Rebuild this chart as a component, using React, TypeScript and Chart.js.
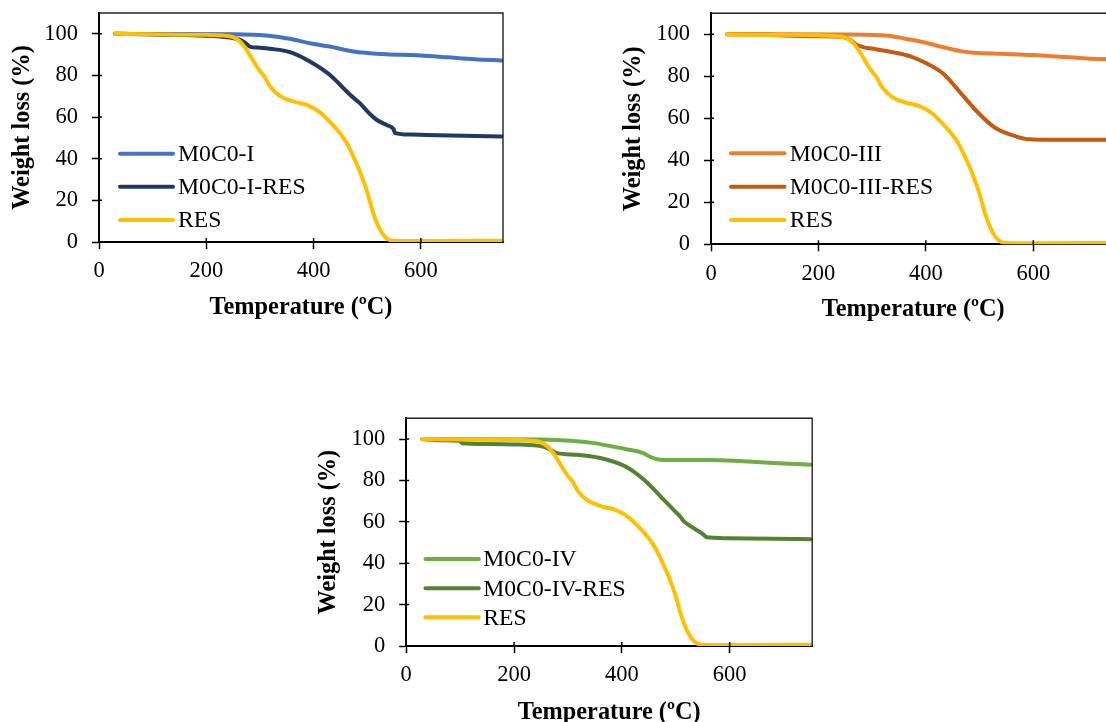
import { useEffect, useRef } from 'react';
import { Chart, registerables } from 'chart.js';

Chart.register(...registerables);

const FONT = "'Liberation Serif', 'Times New Roman', serif";

// Axis ticks and ranges
const xTicks = [0, 200, 400, 600];
const yTicks = [0, 20, 40, 60, 80, 100];
const X_MAX = 753;
const Y_MAX = 110;

// RES trace (shared by all three panels)
const resTemp = [30, 100, 200, 230, 250, 263, 272, 281, 294, 303, 308, 319, 337, 362, 387, 412, 430, 449, 462, 474, 486, 499, 511, 524, 536, 549, 600, 750];
const resWeight = [100, 99.8, 99.5, 99.2, 98.4, 96.3, 93.5, 89.9, 84.3, 81.2, 79.6, 74.7, 70.2, 67.5, 65.9, 62.3, 57.8, 52.3, 47.4, 41, 34, 24.8, 14, 5.8, 1.8, 0.6, 0.5, 0.6];

// M0C0-I and M0C0-I-RES
const m0c0ITemp = [30, 150, 250, 320, 356, 393, 430, 474, 500, 536, 600, 650, 700, 750];
const m0c0IWeight = [100, 99.9, 99.8, 99, 97.6, 95.5, 93.9, 91.5, 90.8, 90.2, 89.6, 88.7, 87.8, 87.2];
const m0c0IResTemp = [30, 120, 200, 226, 245, 263, 272, 281, 300, 319, 356, 393, 430, 468, 486, 505, 518, 536, 549, 552, 580, 610, 680, 750];
const m0c0IResWeight = [100, 99.6, 99.1, 98.7, 98.2, 97.1, 95.8, 93.9, 93.3, 92.8, 91.2, 86.7, 80.3, 70.7, 66.7, 61.5, 58.6, 56.2, 54.2, 52.3, 51.6, 51.4, 51, 50.7];

// M0C0-III and M0C0-III-RES
const m0c0IIITemp = [30, 150, 250, 330, 360, 400, 430, 465, 490, 540, 600, 650, 700, 750];
const m0c0IIIWeight = [100, 100, 99.9, 99.3, 98, 96, 94, 92, 91.2, 90.7, 90.1, 89.3, 88.5, 88.1];
const m0c0IIIResTemp = [30, 120, 125, 200, 245, 260, 272, 285, 300, 340, 370, 400, 434, 465, 496, 527, 558, 585, 620, 700, 750];
const m0c0IIIResWeight = [100, 99.8, 99.5, 99.1, 98.7, 97.2, 94.9, 93.8, 93.2, 91.4, 89.6, 86.3, 80.9, 72, 63, 55.8, 52.2, 50.2, 49.8, 49.8, 49.8];

// M0C0-IV and M0C0-IV-RES
const m0c0IVTemp = [30, 150, 250, 304, 348, 380, 406, 440, 453, 471, 500, 564, 626, 700, 750];
const m0c0IVWeight = [100, 99.9, 99.8, 99.2, 98, 96.5, 95.2, 93.2, 91.3, 90, 89.9, 89.9, 89.2, 88.2, 87.6];
const m0c0IVResTemp = [30, 60, 98, 104, 150, 200, 243, 258, 268, 280, 317, 360, 406, 441, 472, 502, 510, 514, 533, 552, 556, 595, 680, 750];
const m0c0IVResWeight = [100, 99.4, 99.2, 98, 97.6, 97.4, 96.8, 96, 94.8, 93.2, 92.4, 90.8, 86.8, 80.3, 72.2, 64.2, 62, 60.5, 56.9, 53.7, 52.7, 52.1, 51.8, 51.6];

const YELLOW = '#FFC000';

type Series = { label: string; temp: number[]; weight: number[]; color: string };
type Box = { left: number; top: number; width: number; height: number };
type Plot = { left: number; top: number; right: number; bottom: number };
type LegendSpec = { lineFrom: number; lineTo: number; textX: number; rows: number[] };
type PanelSpec = { canvas: Box; plot: Plot; legend: LegendSpec; series: Series[] };

const panels: PanelSpec[] = [
  {
    canvas: { left: 0, top: 0, width: 520, height: 330 },
    plot: { left: 99, top: 13, right: 503, bottom: 242 },
    legend: { lineFrom: 21, lineTo: 74, textX: 79, rows: [140.7, 173.7, 207] },
    series: [
      { label: 'M0C0-I', temp: m0c0ITemp, weight: m0c0IWeight, color: '#4472C4' },
      { label: 'M0C0-I-RES', temp: m0c0IResTemp, weight: m0c0IResWeight, color: '#203864' },
      { label: 'RES', temp: resTemp, weight: resWeight, color: YELLOW },
    ],
  },
  {
    canvas: { left: 610.5, top: 2, width: 525, height: 330 },
    plot: { left: 710.5, top: 13.3, right: 1115, bottom: 244.3 },
    legend: { lineFrom: 20, lineTo: 73.5, textX: 78.8, rows: [140, 173.4, 206.7] },
    series: [
      { label: 'M0C0-III', temp: m0c0IIITemp, weight: m0c0IIIWeight, color: '#ED7D31' },
      { label: 'M0C0-III-RES', temp: m0c0IIIResTemp, weight: m0c0IIIResWeight, color: '#C55A11' },
      { label: 'RES', temp: resTemp, weight: resWeight, color: YELLOW },
    ],
  },
  {
    canvas: { left: 305.5, top: 400, width: 525, height: 335 },
    plot: { left: 405.7, top: 418.3, right: 811.7, bottom: 646 },
    legend: { lineFrom: 19.3, lineTo: 72.6, textX: 77, rows: [140.7, 170, 199] },
    series: [
      { label: 'M0C0-IV', temp: m0c0IVTemp, weight: m0c0IVWeight, color: '#70AD47' },
      { label: 'M0C0-IV-RES', temp: m0c0IVResTemp, weight: m0c0IVResWeight, color: '#548235' },
      { label: 'RES', temp: resTemp, weight: resWeight, color: YELLOW },
    ],
  },
];

// Closes the frame (top/right) and adds the inner half of each cross tick
const framePlugin = {
  id: 'frame',
  afterDraw(chart: any) {
    const { ctx, chartArea: a, scales } = chart;
    ctx.save();
    ctx.strokeStyle = '#222';
    ctx.lineWidth = 1.4;
    ctx.beginPath();
    ctx.moveTo(a.left, a.top);
    ctx.lineTo(a.right, a.top);
    ctx.lineTo(a.right, a.bottom);
    ctx.stroke();
    ctx.strokeStyle = '#000';
    ctx.lineWidth = 1.5;
    ctx.beginPath();
    scales.y.ticks.forEach((t: any) => {
      const py = scales.y.getPixelForValue(t.value);
      ctx.moveTo(a.left, py);
      ctx.lineTo(a.left + 3, py);
    });
    scales.x.ticks.forEach((t: any) => {
      const px = scales.x.getPixelForValue(t.value);
      ctx.moveTo(px, a.bottom);
      ctx.lineTo(px, a.bottom - 4);
    });
    ctx.stroke();
    ctx.restore();
  },
};

// Legend drawn inside the plot area, one row per dataset
const inlineLegendPlugin = {
  id: 'inlineLegend',
  afterDraw(chart: any, _args: any, opts: any) {
    if (!opts || !opts.rows) return;
    const { ctx, chartArea: a } = chart;
    ctx.save();
    chart.data.datasets.forEach((ds: any, i: number) => {
      const y = a.top + opts.rows[i];
      ctx.strokeStyle = ds.borderColor;
      ctx.lineWidth = 4;
      ctx.lineCap = 'round';
      ctx.beginPath();
      ctx.moveTo(a.left + opts.lineFrom, y);
      ctx.lineTo(a.left + opts.lineTo, y);
      ctx.stroke();
      ctx.fillStyle = '#000';
      ctx.font = `23.7px ${FONT}`;
      ctx.textAlign = 'left';
      ctx.textBaseline = 'middle';
      ctx.fillText(ds.label, a.left + opts.textX, y + 1);
    });
    ctx.restore();
  },
};

function Panel({ spec }: { spec: PanelSpec }) {
  const ref = useRef<HTMLCanvasElement>(null);

  useEffect(() => {
    if (!ref.current) return;
    const { canvas, plot, legend, series } = spec;
    const yAxisW = plot.left - canvas.left;
    const xAxisH = canvas.top + canvas.height - plot.bottom;

    const chart = new Chart(ref.current, {
      type: 'line',
      data: {
        datasets: series.map((s, i) => ({
          label: s.label,
          data: s.temp.map((t, k) => ({ x: t, y: s.weight[k] })),
          borderColor: s.color,
          backgroundColor: s.color,
          borderWidth: 4,
          borderCapStyle: 'round' as const,
          borderJoinStyle: 'round' as const,
          pointRadius: 0,
          cubicInterpolationMode: 'monotone' as const,
          order: series.length - 1 - i,
        })),
      },
      options: {
        responsive: false,
        animation: false,
        events: [],
        layout: {
          padding: {
            left: 0,
            top: plot.top - canvas.top,
            right: canvas.left + canvas.width - plot.right,
            bottom: 0,
          },
        },
        plugins: {
          legend: { display: false },
          tooltip: { enabled: false },
          inlineLegend: legend,
        } as any,
        scales: {
          x: {
            type: 'linear',
            min: 0,
            max: X_MAX,
            afterBuildTicks: (s: any) => {
              s.ticks = xTicks.map((v) => ({ value: v }));
            },
            afterFit: (s: any) => {
              s.height = xAxisH;
              s.paddingLeft = 0;
              s.paddingRight = 0;
            },
            grid: {
              drawOnChartArea: false,
              drawTicks: true,
              tickLength: 7,
              tickColor: '#000',
              tickWidth: 1.5,
            },
            border: { display: true, color: '#000', width: 2 },
            ticks: {
              color: '#000',
              padding: 9,
              maxRotation: 0,
              font: { family: FONT, size: 22.5 },
            },
            title: {
              display: true,
              text: 'Temperature (ºC)',
              color: '#000',
              padding: 8,
              font: { family: FONT, size: 24.3, weight: 'bold' },
            },
          },
          y: {
            type: 'linear',
            min: 0,
            max: Y_MAX,
            afterBuildTicks: (s: any) => {
              s.ticks = yTicks.map((v) => ({ value: v }));
            },
            afterFit: (s: any) => {
              s.width = yAxisW;
              s.paddingTop = 0;
              s.paddingBottom = 0;
            },
            grid: {
              drawOnChartArea: false,
              drawTicks: true,
              tickLength: 7,
              tickColor: '#000',
              tickWidth: 1.5,
            },
            border: { display: true, color: '#000', width: 2 },
            ticks: {
              color: '#000',
              padding: 14,
              font: { family: FONT, size: 22.5 },
            },
            title: {
              display: true,
              text: 'Weight loss (%)',
              color: '#000',
              padding: 8,
              font: { family: FONT, size: 24.3, weight: 'bold' },
            },
          },
        },
      },
      plugins: [framePlugin, inlineLegendPlugin],
    } as any);

    return () => chart.destroy();
  }, [spec]);

  const { canvas } = spec;
  return (
    <canvas
      ref={ref}
      width={canvas.width}
      height={canvas.height}
      style={{
        position: 'absolute',
        left: canvas.left,
        top: canvas.top,
        width: canvas.width,
        height: canvas.height,
      }}
    />
  );
}

export default function App() {
  return (
    <div
      style={{
        position: 'fixed',
        left: 0,
        top: 0,
        width: 1106,
        height: 722,
        overflow: 'hidden',
        background: '#fff',
      }}
    >
      {panels.map((p, i) => (
        <Panel key={i} spec={p} />
      ))}
    </div>
  );
}
